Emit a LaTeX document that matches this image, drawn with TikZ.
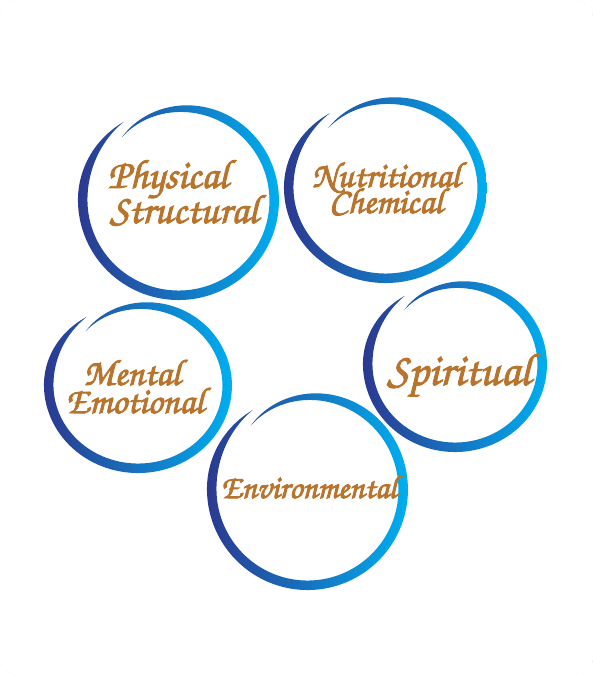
\documentclass[tikz,border=0pt]{standalone}
\usepackage{tikz}
\definecolor{ringdark}{RGB}{43,57,144}
\definecolor{ringlight}{RGB}{0,174,239}
\definecolor{txt}{RGB}{184,116,44}
\definecolor{cardblue}{RGB}{226,239,246}
\pgfdeclareradialshading{cardshade}{\pgfpoint{0bp}{0bp}}{color(0bp)=(white); color(34bp)=(white); color(50bp)=(cardblue)}
\newcommand{\scr}{\fontencoding{T1}\fontfamily{pzc}\fontseries{mb}\fontshape{it}\selectfont\lineskiplimit=-60pt\lineskip=0pt}
\newcommand{\thk}[1]{\special{pdf:literal direct 2 Tr 0.9 w}#1\special{pdf:literal direct 0 Tr}}
\newcommand{\brushring}[5]{%
  \shade[left color=ringdark, right color=ringlight]
    plot[domain=0:1, samples=160, variable=\t]
      ({#1+(#3+roff(\t)+0.5*rw(\t,#5))*cos(rth(\t))},
       {676-#2+(#4+roff(\t)+0.5*rw(\t,#5))*sin(rth(\t))})
    -- plot[domain=1:0, samples=160, variable=\t]
      ({#1+(#3+roff(\t)-0.5*rw(\t,#5))*cos(rth(\t))},
       {676-#2+(#4+roff(\t)-0.5*rw(\t,#5))*sin(rth(\t))})
    -- cycle;
}
\tikzset{
  declare function={
    rth(\t)=125+367*\t;
    roff(\t)=2-11*\t*\t*\t*\t*\t*\t*\t*\t;
    rw(\t,\w)=\w*sin(90*min(1,\t/0.15))*sin(90*min(1,(1-\t)/0.25));
  },
  lbl/.style={text=txt, anchor=base, inner sep=0pt, align=center},
}
\begin{document}
\begin{tikzpicture}[x=1pt,y=1pt]
\useasboundingbox (0,0) rectangle (593,676);
\fill[cardblue, rounded corners=18pt] (0,0) rectangle (593,676);
\begin{scope}
  \clip[rounded corners=18pt] (0,0) rectangle (593,676);
  \shade[shading=cardshade] (296.5,296) circle (482);
\end{scope}
% rings: cx, cy (image), rx, ry, width
\brushring{178.6}{200}{93.9}{93.3}{9.5}
\brushring{385.6}{187.5}{94.9}{88.8}{9.5}
\brushring{138.1}{385}{87.4}{81.3}{9.5}
\brushring{307.6}{489}{93.9}{94.3}{9.5}
\brushring{455.1}{364}{85.4}{81.3}{9.5}
% labels (base anchor = baseline of last line)
\node[lbl, font=\scr\fontsize{41}{35}\selectfont] (phys) at (184,453)
  {\thk{Physical}\hspace*{32pt}\\\thk{Structural}};
\node[lbl, font=\scr\fontsize{36}{26}\selectfont] (nutr) at (386,463)
  {\thk{Nutritional}\\\thk{Chemical}};
\node[lbl, font=\scr\fontsize{37}{28}\selectfont] (ment) at (135,263)
  {\thk{Mental}\hspace*{6pt}\\\thk{Emotional}};
\node[lbl, font=\scr\fontsize{46}{46}\selectfont] (spir) at (459,291) {\thk{Spiritual}};
\node[lbl, font=\scr\fontsize{33}{33}\selectfont] (envi) at (309,178) {\thk{Environmental}};
\end{tikzpicture}
\end{document}
